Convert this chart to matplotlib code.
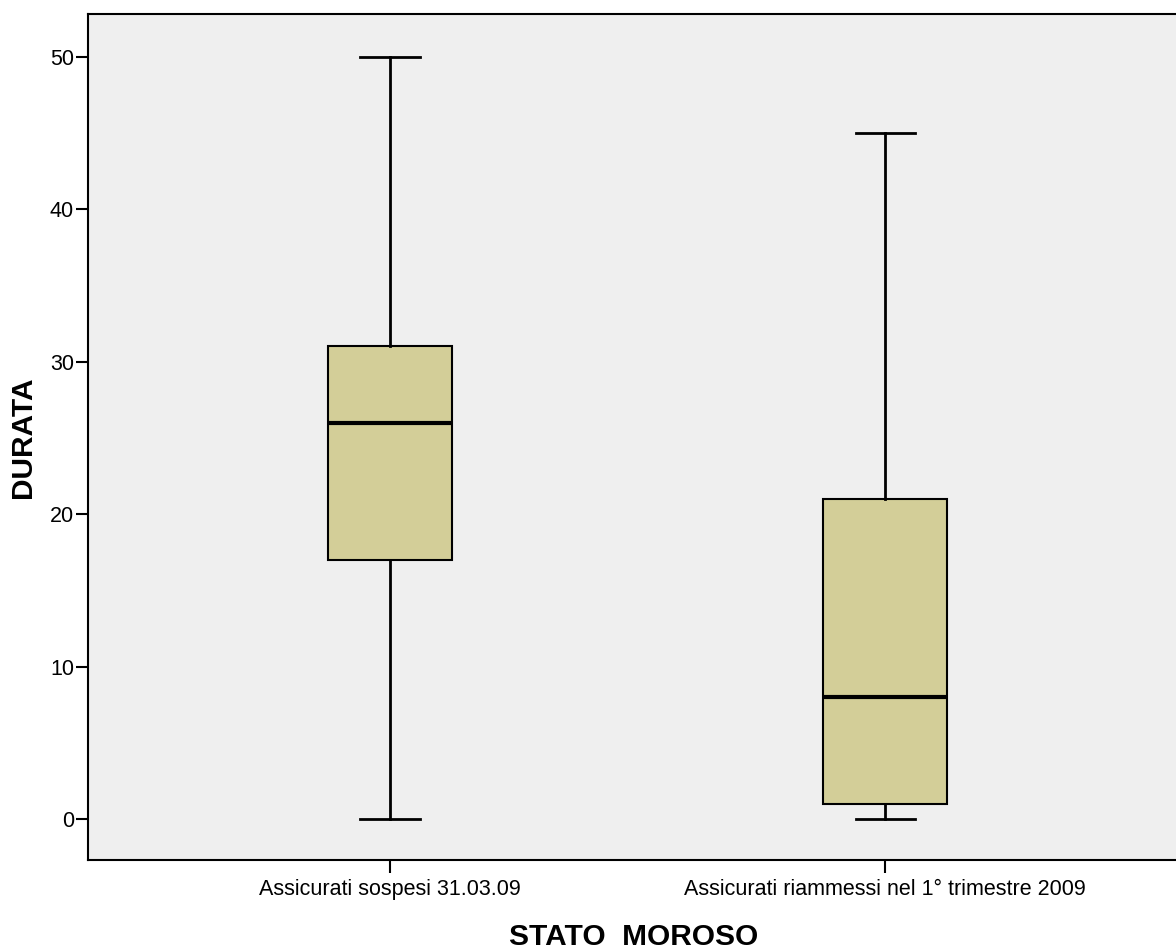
import matplotlib
matplotlib.use("Agg")
import matplotlib.pyplot as plt

plt.rcParams['font.family'] = ['Liberation Sans', 'DejaVu Sans']

categories = ["Assicurati sospesi 31.03.09", "Assicurati riammessi nel 1° trimestre 2009"]
whislo = [0, 0]
q1 = [17, 1]
med = [26, 8]
q3 = [31, 21]
whishi = [50, 45]

stats = []
for i, lab in enumerate(categories):
    stats.append(dict(label=lab, whislo=whislo[i], q1=q1[i], med=med[i],
                      q3=q3[i], whishi=whishi[i], fliers=[]))

fig = plt.figure(figsize=(11.76, 9.49), dpi=100)
ax = fig.add_axes([88/1176, 89/949, 1 - 88/1176 + 0.002, (860-14)/949])
ax.set_facecolor("#EFEFEF")

ax.bxp(stats, positions=[1, 2], widths=0.25, patch_artist=True,
       boxprops=dict(facecolor="#D3CE98", edgecolor="black", linewidth=1.5),
       medianprops=dict(color="black", linewidth=3),
       whiskerprops=dict(color="black", linewidth=2),
       capprops=dict(color="black", linewidth=2),
       capwidths=0.12)

ax.set_xlim(1 - 302/495, 1 + 788/495)
ax.set_ylim(-2.69, 52.8)
ax.set_yticks([0, 10, 20, 30, 40, 50])
ax.tick_params(axis='y', labelsize=15.5, length=9, width=1.5, pad=1)
ax.tick_params(axis='x', labelsize=15.5, length=9, width=1.5, pad=5)

for s in ['left', 'bottom', 'top']:
    ax.spines[s].set_linewidth(1.5)
ax.spines['right'].set_visible(False)

ax.set_ylabel("DURATA", fontsize=21.5, fontweight='bold', labelpad=9)
ax.set_xlabel("STATO  MOROSO", fontsize=21.5, fontweight='bold', labelpad=16)

fig.savefig("out.png", dpi=100)
